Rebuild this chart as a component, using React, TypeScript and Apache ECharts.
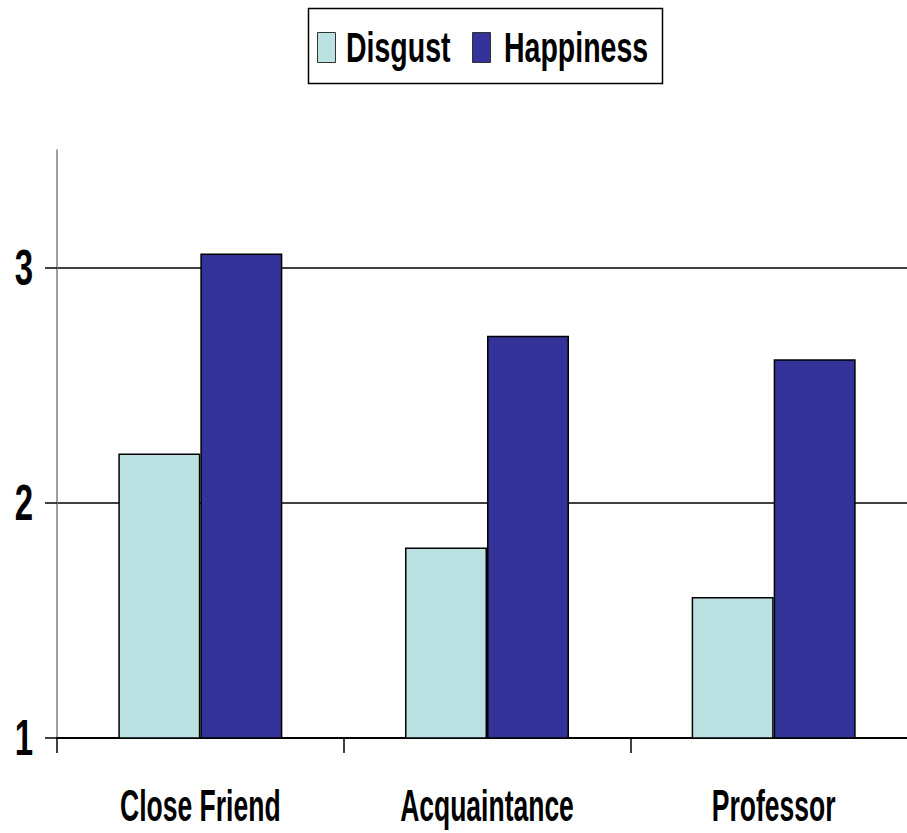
import React, { useEffect, useRef } from "react";
import * as echarts from "echarts";

const categories = ["Close Friend", "Acquaintance", "Professor"];
const seriesNames = ["Disgust", "Happiness"];
const disgust = [2.21, 1.81, 1.6];
const happiness = [3.06, 2.71, 2.61];
const yTicks = [1, 2, 3];
const colors = ["#BCE1E3", "#333399"];

const FONT = "'Liberation Sans', Arial, sans-serif";

function txt(text: string, x: number, y: number, size: number, sy: number, align: string) {
  return {
    type: "text",
    x,
    y,
    scaleY: sy,
    z: 100,
    silent: true,
    style: {
      text,
      fontFamily: FONT,
      fontWeight: "bold",
      fontSize: size,
      fill: "#000",
      textAlign: align,
      align,
      textVerticalAlign: "middle",
      verticalAlign: "middle",
    },
  };
}

export default function App() {
  const ref = useRef<HTMLDivElement>(null);
  useEffect(() => {
    if (!ref.current) return;
    const chart = echarts.init(ref.current, undefined, { renderer: "svg" });
    chart.setOption({
      animation: false,
      backgroundColor: "#ffffff",
      grid: { left: 57, right: 13, top: 150, bottom: 95, containLabel: false },
      xAxis: {
        type: "category",
        data: categories,
        boundaryGap: true,
        axisLine: { show: true, lineStyle: { color: "#000", width: 2 } },
        axisTick: { show: true, interval: 0, length: 15, lineStyle: { color: "#000", width: 1.5 } },
        axisLabel: { show: false, interval: 0 },
      },
      yAxis: {
        type: "value",
        min: 1,
        max: 3.5,
        interval: 1,
        axisLine: { show: true, lineStyle: { color: "#7f7f7f", width: 1.5 } },
        axisTick: { show: true, length: 12, customValues: yTicks, lineStyle: { color: "#000", width: 1.5 } },
        axisLabel: { show: false, customValues: yTicks },
        splitLine: { show: true, lineStyle: { color: "#000", width: 1.5 } },
      },
      series: [
        {
          name: seriesNames[0],
          type: "bar",
          data: disgust,
          barWidth: 82,
          barGap: "0%",
          itemStyle: { color: colors[0], borderColor: "#000", borderWidth: 1.5 },
        },
        {
          name: seriesNames[1],
          type: "bar",
          data: happiness,
          barWidth: 82,
          barGap: "0%",
          itemStyle: { color: colors[1], borderColor: "#000", borderWidth: 1.5 },
        },
      ],
    });

    const graphics: any[] = [];
    // legend
    graphics.push({
      type: "rect",
      shape: { x: 308.5, y: 8.5, width: 354, height: 75 },
      style: { fill: "#fff", stroke: "#000", lineWidth: 1.5 },
      z: 99,
    });
    const iconX = [317, 472];
    const textX = [346, 504];
    seriesNames.forEach((n, i) => {
      graphics.push({
        type: "rect",
        shape: { x: iconX[i] + 0.5, y: 32.5, width: 18, height: 30 },
        style: { fill: colors[i], stroke: "#333", lineWidth: 1 },
        z: 100,
      });
      graphics.push(txt(n, textX[i], 47.5, 28.5, 1.52, "left"));
    });
    // category labels
    categories.forEach((c, i) => {
      const px = chart.convertToPixel({ xAxisIndex: 0 }, i) as number;
      graphics.push(txt(c, px, 806, 26.5, 1.64, "center"));
    });
    // y labels
    yTicks.forEach((v) => {
      const py = chart.convertToPixel({ yAxisIndex: 0 }, v) as number;
      graphics.push(txt(String(v), 33, py, 33, 1.5, "right"));
    });
    chart.setOption({ graphic: graphics });
    return () => chart.dispose();
  }, []);
  return <div ref={ref} style={{ position: "fixed", left: 0, top: 0, width: 930, height: 833 }} />;
}
